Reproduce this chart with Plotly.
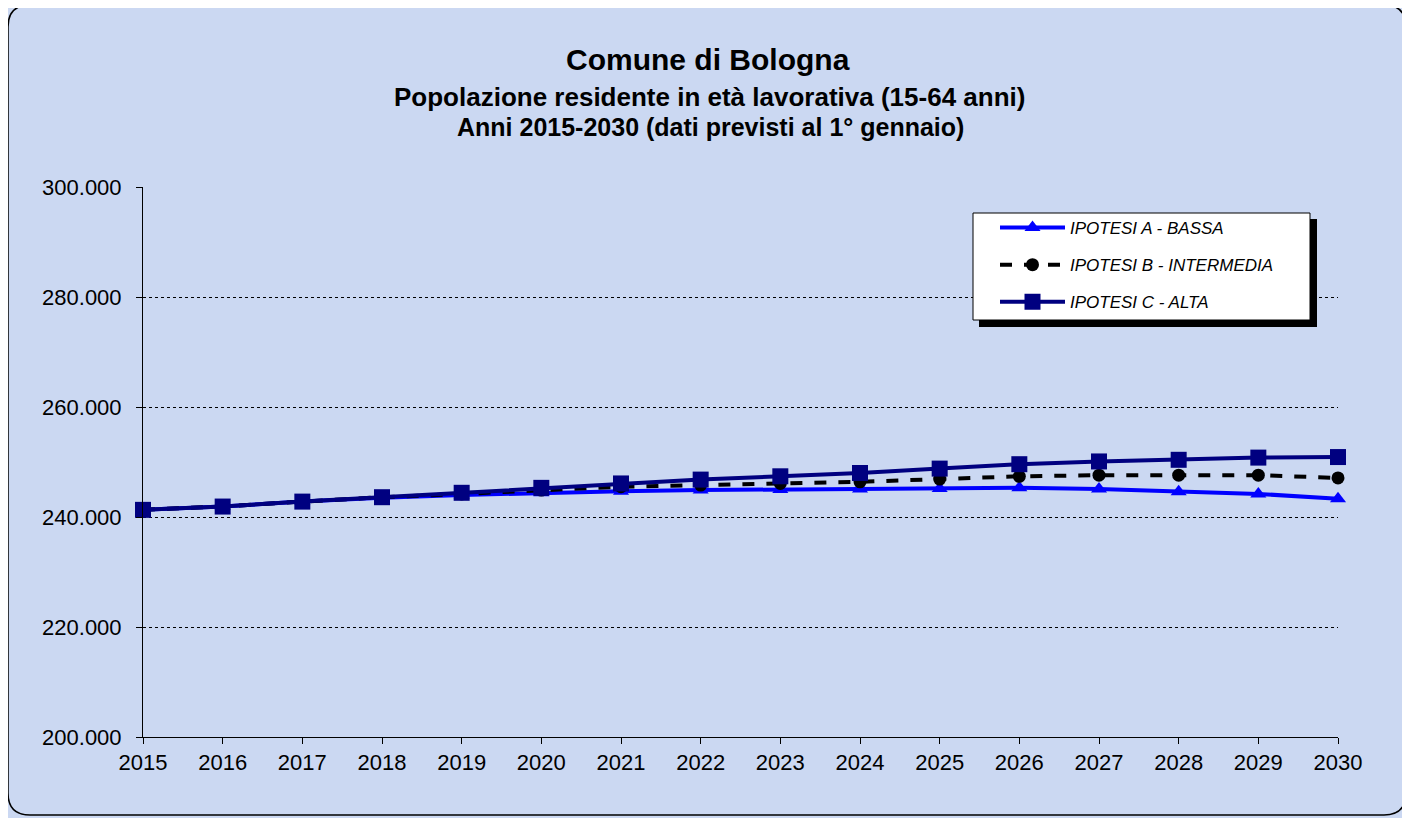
import plotly.graph_objects as go

anni = list(range(2015, 2031))

ipotesi_a = [241300, 241900, 242800, 243500, 244000, 244400, 244700, 244900,
             245000, 245100, 245200, 245300, 245100, 244600, 244200, 243300]
ipotesi_b = [241300, 241900, 242800, 243600, 244200, 244900, 245500, 245800,
             246100, 246400, 246900, 247400, 247600, 247600, 247600, 247100]
ipotesi_c = [241300, 241900, 242800, 243600, 244400, 245300, 246100, 246800,
             247400, 248000, 248800, 249600, 250100, 250400, 250800, 250900]

y_ticks = [200000, 220000, 240000, 260000, 280000, 300000]

# page has an 8px body margin, so the figure is drawn 8px in
OFF = 8
W, H = 1410 - OFF, 818 - OFF
L, T = 143 - OFF, 187 - OFF
R, B = W - (1338 - OFF), H - (737 - OFF)
pw, ph = W - L - R, H - T - B


def px(x):
    return (x - OFF - L) / pw


def py(y):
    return (H - B - (y - OFF)) / ph


def rounded_rect(x0, y0, x1, y1, r):
    # path in paper coords from page pixel box
    return (f"M {px(x0 + r)},{py(y0)} L {px(x1 - r)},{py(y0)} "
            f"Q {px(x1)},{py(y0)} {px(x1)},{py(y0 + r)} "
            f"L {px(x1)},{py(y1 - r)} Q {px(x1)},{py(y1)} {px(x1 - r)},{py(y1)} "
            f"L {px(x0 + r)},{py(y1)} Q {px(x0)},{py(y1)} {px(x0)},{py(y1 - r)} "
            f"L {px(x0)},{py(y0 + r)} Q {px(x0)},{py(y0)} {px(x0 + r)},{py(y0)} Z")


fig = go.Figure()

fig.add_trace(go.Scatter(
    x=anni, y=ipotesi_a, mode="lines+markers", name="IPOTESI A - BASSA",
    line=dict(color="#0000ff", width=4),
    marker=dict(symbol="triangle-up", size=14, color="#0000ff"),
    cliponaxis=False, legendgroup="a",
))
fig.add_trace(go.Scatter(
    x=anni, y=ipotesi_b, mode="lines+markers", name="IPOTESI B - INTERMEDIA",
    line=dict(color="#000000", width=4, dash="dash"),
    marker=dict(symbol="circle", size=13, color="#000000"),
    cliponaxis=False, legendgroup="b",
))
fig.add_trace(go.Scatter(
    x=anni, y=ipotesi_c, mode="lines+markers", name="IPOTESI C - ALTA",
    line=dict(color="#000080", width=4),
    marker=dict(symbol="square", size=16, color="#000080"),
    cliponaxis=False, legendgroup="c",
))

shapes = [
    # outer rounded frame
    dict(type="path", xref="paper", yref="paper", layer="below",
         path=rounded_rect(8, 5, 1406, 815, 22),
         line=dict(color="black", width=1.5), fillcolor="#cbd8f2"),
    # legend shadow + box
    dict(type="rect", xref="paper", yref="paper",
         x0=px(979), x1=px(1317), y0=py(219), y1=py(327),
         line=dict(width=0), fillcolor="black"),
    dict(type="rect", xref="paper", yref="paper",
         x0=px(973), x1=px(1310), y0=py(213), y1=py(320),
         line=dict(color="black", width=1), fillcolor="white"),
]

fig.update_layout(
    width=W, height=H,
    margin=dict(l=L, r=R, t=T, b=B),
    paper_bgcolor="#cbd8f2",
    plot_bgcolor="rgba(0,0,0,0)",
    font=dict(family="Arial, Liberation Sans", color="black", size=22),
    separators=",.",
    showlegend=True,
    legend=dict(
        x=px(995), y=py(210), xanchor="left", yanchor="top",
        bgcolor="rgba(0,0,0,0)", borderwidth=0,
        font=dict(family="Arial, Liberation Sans", size=17, style="italic"),
        tracegroupgap=12, itemwidth=65,
    ),
    xaxis=dict(
        range=[2015, 2030], tickmode="array", tickvals=anni,
        showgrid=False, zeroline=False,
        showline=True, linecolor="black", linewidth=1,
        ticks="outside", ticklen=6, tickcolor="black",
        tickfont=dict(size=22),
    ),
    yaxis=dict(
        range=[200000, 300000], tickmode="array", tickvals=y_ticks,
        tickformat=",.0f",
        showgrid=True, gridcolor="black", gridwidth=1, griddash="dot",
        zeroline=False,
        showline=True, linecolor="black", linewidth=1,
        ticks="outside", ticklen=6, tickcolor="black",
        tickfont=dict(size=22), ticklabelstandoff=10,
    ),
    shapes=shapes,
    annotations=[
        dict(text="<b>Comune di Bologna</b>", xref="paper", yref="paper",
             x=px(708), y=py(60), xanchor="center", yanchor="middle",
             showarrow=False, font=dict(size=30)),
        dict(text="<b>Popolazione residente in età lavorativa (15-64 anni)</b>",
             xref="paper", yref="paper", x=px(709), y=py(97),
             xanchor="center", yanchor="middle", showarrow=False,
             font=dict(size=26)),
        dict(text="<b>Anni 2015-2030 (dati previsti al 1° gennaio)</b>",
             xref="paper", yref="paper", x=px(710), y=py(127),
             xanchor="center", yanchor="middle", showarrow=False,
             font=dict(size=25)),
    ],
)

fig.write_html("out.html")
